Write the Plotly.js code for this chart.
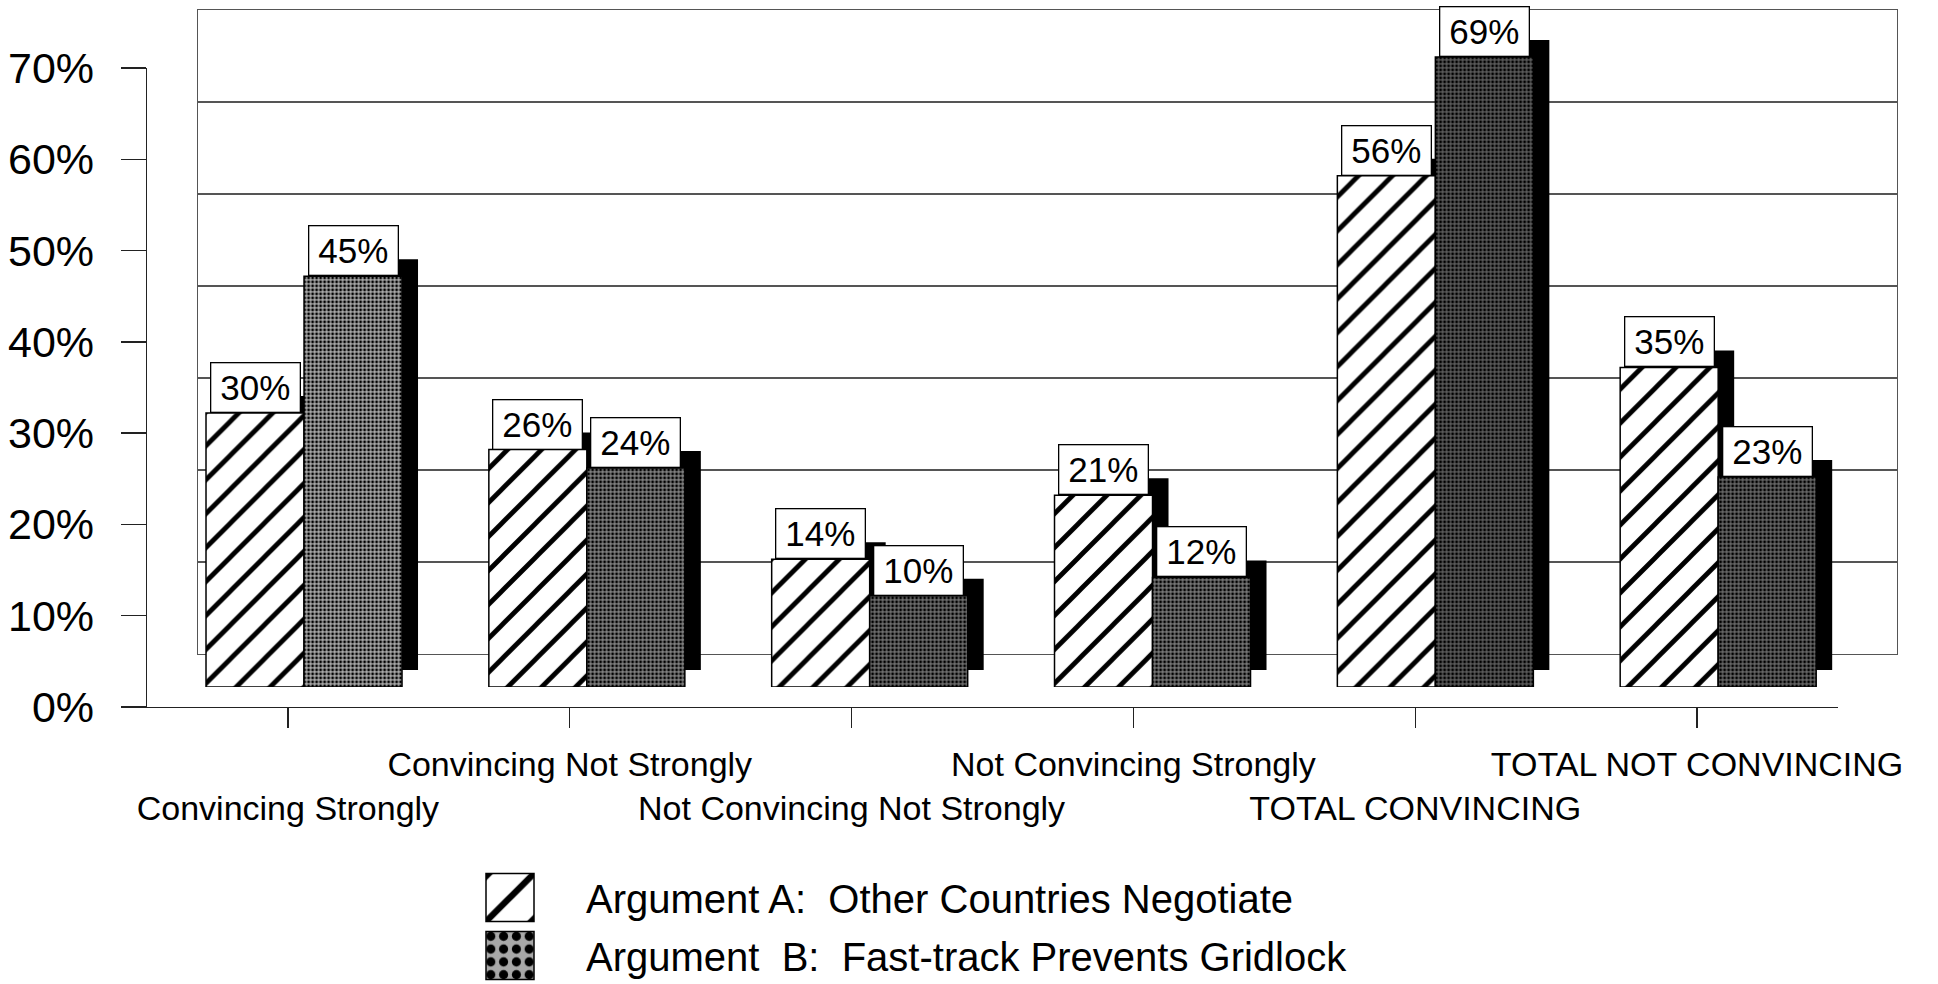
<!DOCTYPE html>
<html><head><meta charset="utf-8">
<script src="https://cdn.plot.ly/plotly-3.0.1.min.js"></script>
<style>html,body{margin:0;padding:0;background:#fff;}#chart{width:1938px;height:984px;}</style>
</head><body><div id="chart"></div>
<script>
// ---- data ----
const categories = ['Convincing Strongly','Convincing Not Strongly','Not Convincing Not Strongly','Not Convincing Strongly','TOTAL CONVINCING','TOTAL NOT CONVINCING'];
const seriesA = [0.30, 0.26, 0.14, 0.21, 0.56, 0.35];
const seriesB = [0.45, 0.24, 0.10, 0.12, 0.69, 0.23];
const seriesNames = ['Argument A:  Other Countries Negotiate', 'Argument  B:  Fast-track Prevents Gridlock'];
const yTickVals = [0, 0.1, 0.2, 0.3, 0.4, 0.5, 0.6, 0.7];
const yTickText = ['0%', '10%', '20%', '30%', '40%', '50%', '60%', '70%'];

// ---- geometry helpers (pixel -> paper fraction) ----
const W = 1938, H = 984;
const fx = p => p / W;
const fy = p => 1 - p / H;
const FONT = 'Liberation Sans, Arial, Helvetica, sans-serif';
const BARGAP = 0.307;
const catIdx = categories.map((c, i) => i);
const pctText = v => Math.round(v * 100) + '%';

// invisible helper traces so that the back wall and front axes subplots exist
const axisHolder = (xa, ya) => ({
  type: 'scatter', mode: 'none', x: catIdx, y: seriesA, xaxis: xa, yaxis: ya,
  showlegend: false, hoverinfo: 'skip'
});

const shadowTrace = (vals) => ({
  type: 'bar', x: categories, y: vals, xaxis: 'x2', yaxis: 'y2',
  marker: {color: '#000', line: {width: 0}}, showlegend: false, hoverinfo: 'skip'
});

const traceA = {
  type: 'bar', name: seriesNames[0], x: categories, y: seriesA, xaxis: 'x3', yaxis: 'y3',
  legend: 'legend',
  marker: {color: '#fff', line: {color: '#000', width: 1.5},
    pattern: {shape: '/', fgcolor: '#000', bgcolor: '#fff', size: 24, solidity: 0.2, fillmode: 'replace'}},
  hoverinfo: 'skip'
};
const traceB = {
  type: 'bar', name: seriesNames[1], x: categories, y: seriesB, xaxis: 'x3', yaxis: 'y3',
  legend: 'legend2',
  marker: {color: '#666', line: {color: '#000', width: 1.5},
    pattern: {shape: '.', fgcolor: '#000', bgcolor: ['#a8a8a8', '#808080', '#6e6e6e', '#777', '#5a5a5a', '#666'], size: 4, solidity: 0.4, fillmode: 'replace'}},
  hoverinfo: 'skip'
};

const off = (1 - BARGAP) / 4;
const annotations = [];
catIdx.forEach(i => {
  [[seriesA, -off], [seriesB, off]].forEach(([s, o]) => {
    annotations.push({
      xref: 'x3', yref: 'y3', x: i + o, y: s[i], text: pctText(s[i]),
      showarrow: false, xanchor: 'center', yanchor: 'bottom',
      bgcolor: '#fff', bordercolor: '#000', borderwidth: 1.3, borderpad: 4,
      width: 80, height: 40, font: {family: FONT, size: 35, color: '#000'}
    });
  });
});

const hidden = (dom, cat) => Object.assign({
  domain: dom, visible: false, fixedrange: true, automargin: false
}, cat ? {type: 'category', range: [-0.5, categories.length - 0.5]} : {range: [0, 0.7]});

const layout = {
  width: W, height: H,
  margin: {l: 0, r: 0, t: 0, b: 0, autoexpand: false},
  paper_bgcolor: '#fff', plot_bgcolor: 'rgba(0,0,0,0)',
  barmode: 'group', bargap: BARGAP, bargroupgap: 0,
  showlegend: true,
  // back wall
  xaxis: {domain: [fx(198), fx(1897)], range: [-0.5, 5.5], showticklabels: false, ticks: '', showgrid: false,
    zeroline: false, showline: true, mirror: true, linecolor: '#555', linewidth: 1.2, fixedrange: true, automargin: false},
  yaxis: {domain: [fy(654), fy(10)], range: [0, 0.7], dtick: 0.1, tick0: 0, showticklabels: false, ticks: '',
    showgrid: true, gridcolor: '#555', gridwidth: 1.2, zeroline: false, showline: true, mirror: true,
    linecolor: '#555', linewidth: 1.2, anchor: 'x', fixedrange: true, automargin: false},
  // shadow
  xaxis2: Object.assign(hidden([fx(178.6), fx(1875.6)], true), {anchor: 'y2'}),
  yaxis2: Object.assign(hidden([fy(670), fy(30.9)], false), {anchor: 'x2'}),
  // bars
  xaxis3: Object.assign(hidden([fx(162.6), fx(1859.6)], true), {anchor: 'y3'}),
  yaxis3: Object.assign(hidden([fy(687), fy(47.9)], false), {anchor: 'x3'}),
  // front axes
  xaxis4: {domain: [fx(147), fx(1838)], anchor: 'y4', type: 'linear', range: [-0.5, categories.length - 0.5],
    tickmode: 'array', tickvals: catIdx, tickangle: 0, automargin: false,
    ticktext: categories.map((c, i) => i % 2 === 0 ? '<br>' + c : c),
    ticks: 'outside', ticklen: 20, tickwidth: 1.3, tickcolor: '#222',
    showline: true, linecolor: '#222', linewidth: 1.3, showgrid: false, zeroline: false,
    tickfont: {family: FONT, size: 34, color: '#000'}, ticklabelstandoff: 7, fixedrange: true},
  yaxis4: {domain: [fy(707), fy(68)], anchor: 'x4', range: [0, 0.7], automargin: false,
    tickmode: 'array', tickvals: yTickVals, ticktext: yTickText,
    ticks: 'outside', ticklen: 25, tickwidth: 1.3, tickcolor: '#222',
    showline: true, linecolor: '#222', linewidth: 1.3, showgrid: false, zeroline: false,
    tickfont: {family: FONT, size: 43, color: '#000'}, ticklabelstandoff: 18, fixedrange: true},
  legend: {x: fx(434), y: fy(865), xanchor: 'left', yanchor: 'top', bgcolor: 'rgba(0,0,0,0)',
    itemwidth: 142, font: {family: FONT, size: 40, color: '#000'}},
  legend2: {x: fx(434), y: fy(923), xanchor: 'left', yanchor: 'top', bgcolor: 'rgba(0,0,0,0)',
    itemwidth: 142, font: {family: FONT, size: 40, color: '#000'}},
  annotations: annotations
};

Plotly.newPlot('chart', [axisHolder('x', 'y'), shadowTrace(seriesA), shadowTrace(seriesB), traceA, traceB, axisHolder('x4', 'y4')], layout,
  {staticPlot: true, displayModeBar: false}).then(() => {
  document.querySelectorAll('.legendpoints path').forEach(p => {
    const t = p.getAttribute('transform') || '';
    p.setAttribute('transform', t + ' scale(4)');
    p.style.vectorEffect = 'non-scaling-stroke';
  });
});
</script>
</body></html>
